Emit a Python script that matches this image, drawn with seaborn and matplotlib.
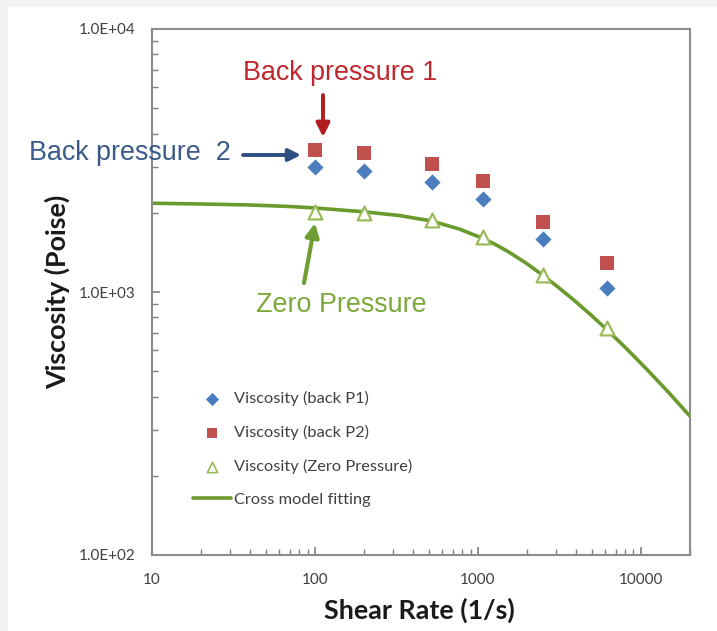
import numpy as np
import pandas as pd
import matplotlib
matplotlib.use("Agg")
import matplotlib.pyplot as plt
import matplotlib.ticker as mticker
from matplotlib.patches import Rectangle
import seaborn as sns

# ---------------- data ----------------
shear_rate = [100, 200, 520, 1070, 2500, 6200]
visc_p1 = [2985, 2880, 2620, 2260, 1590, 1035]      # blue diamonds
visc_p2 = [3470, 3380, 3070, 2640, 1845, 1290]      # red squares
visc_zero = [2014, 1995, 1880, 1620, 1160, 730]     # green open triangles

fit_rate = [10, 20, 40, 70, 100, 200, 330, 520, 770, 1060, 1280, 1550, 1980,
            2480, 3100, 3900, 4880, 6200, 8200, 10900, 14900, 20000]
fit_visc = [2175, 2161, 2142, 2114, 2087, 2018, 1953, 1862, 1735, 1603, 1516, 1418, 1286,
            1162, 1044, 929, 823, 718, 607, 507, 413, 337]

legend_labels = ["Viscosity (back P1)", "Viscosity (back P2)",
                 "Viscosity (Zero Pressure)", "Cross model fitting"]
ytick_vals = [100, 1000, 10000]
ytick_labels = ["1.0E+02", "1.0E+03", "1.0E+04"]
xtick_vals = [10, 100, 1000, 10000]
xtick_labels = ["10", "100", "1000", "10000"]

# ---------------- style ----------------
sns.set_style("white")
plt.rcParams['font.family'] = ['Lato', 'DejaVu Sans']

W, H = 717, 631
fig = plt.figure(figsize=(W / 100, H / 100), dpi=100, facecolor="#f2f2f2")
fig.patches.append(Rectangle((8 / W, 0), 1 - 8 / W, 1 - 7 / H, transform=fig.transFigure,
                             facecolor="white", edgecolor="none", zorder=-10))

ax = fig.add_axes([152 / W, 1 - 555 / H, (690 - 152) / W, (555 - 29) / H])
ax.set_zorder(1)
ax.set_facecolor("white")

BLUE = "#4a7ebf"
RED = "#c0504d"
GREEN_T = "#9bbb59"
GREEN_L = "#6a9a2c"

df_p1 = pd.DataFrame({"x": shear_rate, "y": visc_p1})
df_p2 = pd.DataFrame({"x": shear_rate, "y": visc_p2})
df_z = pd.DataFrame({"x": shear_rate, "y": visc_zero})
df_fit = pd.DataFrame({"x": fit_rate, "y": fit_visc})

sns.lineplot(data=df_fit, x="x", y="y", ax=ax, color=GREEN_L, lw=2.6,
             label=legend_labels[3], zorder=2)
sns.scatterplot(data=df_p1, x="x", y="y", ax=ax, marker="D", s=68, color=BLUE,
                edgecolor=BLUE, linewidth=0, label=legend_labels[0], zorder=3)
sns.scatterplot(data=df_p2, x="x", y="y", ax=ax, marker="s", s=100, color=RED,
                edgecolor=RED, linewidth=0, label=legend_labels[1], zorder=3)
sns.scatterplot(data=df_z, x="x", y="y", ax=ax, marker="^", s=100, facecolor="white",
                edgecolor=GREEN_T, linewidth=1.6, label=legend_labels[2], zorder=4)

ax.set_xscale("log")
ax.set_yscale("log")
ax.set_xlim(10, 20000)
ax.set_ylim(100, 10000)

ax.set_xticks(xtick_vals)
ax.set_xticklabels(xtick_labels)
ax.set_yticks(ytick_vals)
ax.set_yticklabels(ytick_labels)
ax.xaxis.set_minor_locator(mticker.LogLocator(base=10, subs=np.arange(2, 10)))
ax.yaxis.set_minor_locator(mticker.LogLocator(base=10, subs=np.arange(2, 10)))
ax.xaxis.set_minor_formatter(mticker.NullFormatter())
ax.yaxis.set_minor_formatter(mticker.NullFormatter())
ax.tick_params(axis="both", which="major", direction="in", length=6, width=1.2,
               color="#7f7f7f", labelsize=11, labelcolor="#404040",
               left=True, bottom=True, right=False, top=False)
ax.tick_params(axis="both", which="minor", direction="in", length=4, width=1.0,
               color="#7f7f7f", left=True, bottom=True, right=False, top=False)
ax.tick_params(axis="x", which="major", pad=13)
ax.tick_params(axis="y", which="major", pad=12)

for sp in ax.spines.values():
    sp.set_color("#8c8c8c")
    sp.set_linewidth(1.5)

ax.set_xlabel("Shear Rate (1/s)", fontsize=19.4, fontweight="bold", color="#1a1a1a")
ax.set_ylabel("Viscosity (Poise)", fontsize=19.4, fontweight="bold", color="#1a1a1a")
ax.xaxis.set_label_coords((419 - 152) / 538, (555 - 598) / 526)
ax.yaxis.set_label_coords((70 - 152) / 538, (555 - 292) / 526)

# legend
handles, labels = ax.get_legend_handles_labels()
order = [labels.index(l) for l in legend_labels]
leg = ax.legend([handles[i] for i in order], [labels[i] for i in order],
                loc="upper left", bbox_to_anchor=(193 / W, 1 - 391 / H),
                bbox_transform=fig.transFigure, frameon=False,
                fontsize=11.8, labelspacing=1.15, handlelength=2.3,
                handletextpad=0.2, borderpad=0, borderaxespad=0)
for t in leg.get_texts():
    t.set_color("#404040")
lh = leg.legend_handles
lh[0].set_sizes([45])
lh[1].set_sizes([62])
lh[2].set_sizes([55])
lh[2].set_linewidth(1.2)

# annotations
def fp(x, y):
    return (x / W, 1 - y / H)

ANN_FONT = ['Liberation Sans', 'DejaVu Sans']
RED_T = "#c0262d"
BLUE_T = "#3a5a8a"
GREEN_A = "#7aa83a"

fig.text(*fp(340, 73), "Back pressure 1", ha="center", va="center",
         fontsize=19.4, color=RED_T, family=ANN_FONT)
fig.text(*fp(130, 153), "Back pressure  2", ha="center", va="center",
         fontsize=19.4, color=BLUE_T, family=ANN_FONT)
fig.text(*fp(341, 305), "Zero Pressure", ha="center", va="center",
         fontsize=19.4, color=GREEN_A, family=ANN_FONT)

ax.annotate("", xy=fp(323, 137), xytext=fp(323, 95), xycoords="figure fraction",
            textcoords="figure fraction",
            arrowprops=dict(arrowstyle="-|>", lw=2.8, color="#b01c20", mutation_scale=20,
                            shrinkA=0, shrinkB=0))
ax.annotate("", xy=fp(301, 155), xytext=fp(243, 155), xycoords="figure fraction",
            textcoords="figure fraction",
            arrowprops=dict(arrowstyle="-|>", lw=2.8, color="#2f4f80", mutation_scale=18,
                            shrinkA=0, shrinkB=0))
ax.annotate("", xy=fp(315, 223), xytext=fp(304, 283), xycoords="figure fraction",
            textcoords="figure fraction",
            arrowprops=dict(arrowstyle="-|>", lw=3.0, color="#6f9e32", mutation_scale=20,
                            shrinkA=0, shrinkB=0))

fig.savefig("out.png", dpi=100, facecolor=fig.get_facecolor())
